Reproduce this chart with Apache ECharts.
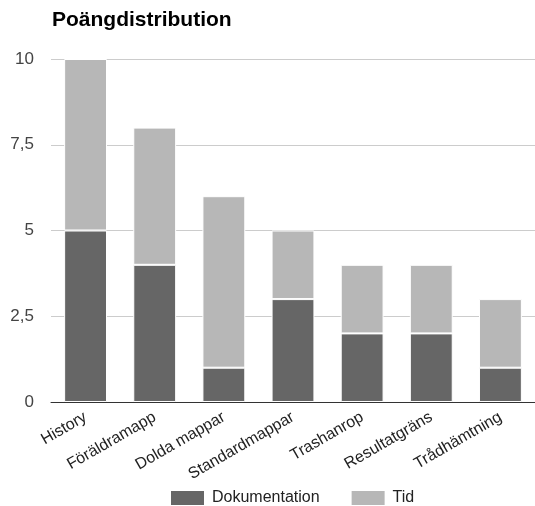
<!DOCTYPE html>
<html>
<head>
<meta charset="utf-8">
<script src="https://cdn.jsdelivr.net/npm/echarts@6/dist/echarts.min.js"></script>
<style>
  html, body { margin: 0; padding: 0; background: #fff; }
  #chart { width: 535px; height: 506px; }
</style>
</head>
<body>
<div id="chart"></div>
<script>
// kategorier och värden
var categories = ['History', 'Föräldramapp', 'Dolda mappar', 'Standardmappar', 'Trashanrop', 'Resultatgräns', 'Trådhämtning'];
var dokumentation = [5, 4, 1, 3, 2, 2, 1];
var tid = [5, 4, 5, 2, 2, 2, 2];
var yTicks = [0, 2.5, 5, 7.5, 10];

var chart = echarts.init(document.getElementById('chart'));

var option = {
  animation: false,
  textStyle: { fontFamily: 'Liberation Sans, Arial, sans-serif' },
  title: {
    text: 'Poängdistribution',
    left: 47,
    top: 5,
    textStyle: { fontSize: 21, fontWeight: 'bold', color: '#000' }
  },
  legend: {
    top: 484,
    left: 164,
    icon: 'rect',
    itemWidth: 35,
    itemHeight: 16,
    itemGap: 30,
    textStyle: { fontSize: 16, color: '#222', padding: [0, 0, 0, 2] },
    data: ['Dokumentation', 'Tid']
  },
  grid: {
    left: 51,
    right: -3,
    top: 59,
    bottom: 104
  },
  xAxis: {
    type: 'category',
    data: categories,
    axisLine: { lineStyle: { color: '#333', width: 1 } },
    axisTick: { show: false },
    axisLabel: {
      rotate: 30,
      interval: 0,
      fontSize: 16,
      color: '#222',
      margin: 14
    }
  },
  yAxis: {
    type: 'value',
    min: 0,
    max: 10,
    interval: 2.5,
    axisLine: { show: false },
    axisTick: { show: false },
    splitLine: { lineStyle: { color: '#ccc' } },
    axisLabel: {
      fontSize: 17,
      color: '#444',
      margin: 17,
      formatter: function (v) {
        return yTicks.indexOf(v) >= 0 ? String(v).replace('.', ',') : '';
      }
    }
  },
  series: [
    {
      name: 'Dokumentation',
      type: 'bar',
      stack: 'total',
      barWidth: '62%',
      itemStyle: { color: '#666666', borderColor: '#fff', borderWidth: 1 },
      data: dokumentation
    },
    {
      name: 'Tid',
      type: 'bar',
      stack: 'total',
      barWidth: '62%',
      itemStyle: { color: '#b7b7b7', borderColor: '#fff', borderWidth: 1 },
      data: tid
    }
  ]
};

chart.setOption(option);
</script>
</body>
</html>
